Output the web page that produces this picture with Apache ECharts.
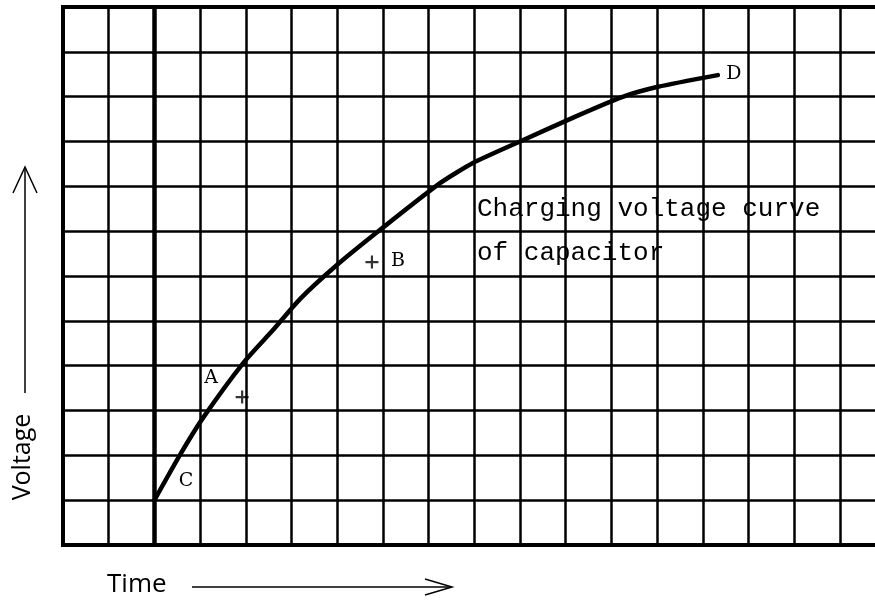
<!DOCTYPE html>
<html>
<head>
<meta charset="utf-8">
<script src="https://cdn.jsdelivr.net/npm/echarts@6/dist/echarts.min.js"></script>
<style>html,body{margin:0;padding:0;background:#fff;}#c{width:875px;height:602px;}</style>
</head>
<body>
<div id="c"></div>
<script>
// Grid extent (in grid cells)
var xCells = 18;
var yCells = 12;
// Charging curve (time, voltage) in grid units, C -> D
var curveX = [2.0, 2.56, 3.06, 3.96, 4.6, 5.19, 6.0, 6.94, 8.25, 8.97, 10.0, 11.2, 12.2, 13.02, 14.33];
var curveY = [1.0, 2.01, 2.83, 4.08, 4.8, 5.49, 6.25, 7.03, 8.07, 8.52, 9.0, 9.55, 9.98, 10.22, 10.48];
// Start time line (thick vertical at C)
var startX = 2;
// "+" marks
var crossNames = ['B', 'A'];
var crossX = [6.76, 3.92];
var crossY = [6.31, 3.30];
// Letter labels
var letterNames = ['A', 'B', 'C', 'D'];
var letterX = [3.24, 7.33, 2.69, 14.68];
var letterY = [3.73, 6.34, 1.43, 10.51];
// Texts
var noteLines = ['Charging voltage curve', 'of capacitor'];
var xTitle = 'Time';
var yTitle = 'Voltage';

var chart = echarts.init(document.getElementById('c'), null, {renderer: 'canvas'});
var cellW = 45.7, cellH = 538 / 12;
var option = {
  backgroundColor: '#fff',
  animation: false,
  grid: {left: 63, top: 7, width: cellW * xCells, height: cellH * yCells,
         outerBoundsMode: 'none', containLabel: false,
         show: true, borderColor: '#000', borderWidth: 4, backgroundColor: 'transparent'},
  xAxis: {type: 'value', min: 0, max: xCells, interval: 1,
          axisLine: {show: false}, axisTick: {show: false}, axisLabel: {show: false},
          splitLine: {show: true, lineStyle: {color: '#000', width: 2.5}}},
  yAxis: {type: 'value', min: 0, max: yCells, interval: 1,
          axisLine: {show: false}, axisTick: {show: false}, axisLabel: {show: false},
          splitLine: {show: true, lineStyle: {color: '#000', width: 2.5}}},
  series: [
    {
      type: 'line', smooth: 0.2, symbol: 'none',
      data: curveX.map(function (x, i) { return [x, curveY[i]]; }),
      lineStyle: {color: '#000', width: 4.5, cap: 'round'},
      markLine: {silent: true, symbol: 'none', label: {show: false},
                 lineStyle: {color: '#000', width: 4.5, type: 'solid'},
                 data: [{xAxis: startX}]}
    },
    {
      type: 'scatter', symbol: 'path://M-1,-6H1V-1H6V1H1V6H-1V1H-6V-1H-1Z', symbolSize: 13,
      itemStyle: {color: '#000'},
      data: crossX.map(function (x, i) { return {name: crossNames[i], value: [x, crossY[i]]}; })
    },
    {
      type: 'scatter', symbol: 'circle', symbolSize: 0,
      itemStyle: {color: '#000', opacity: 1},
      label: {show: true, position: 'inside', formatter: '{b}', color: '#000', opacity: 1,
              textBorderWidth: 0,
              fontFamily: 'DejaVu Serif', fontSize: 19},
      data: letterX.map(function (x, i) { return {name: letterNames[i], value: [x, letterY[i]]}; })
    }
  ],
  graphic: [
    {type: 'text', left: 477, top: 196, style: {text: noteLines[0], fill: '#000',
      font: '26px "Liberation Mono"'}},
    {type: 'text', left: 477, top: 240, style: {text: noteLines[1], fill: '#000',
      font: '26px "Liberation Mono"'}},
    {type: 'text', x: 23, y: 457, rotation: Math.PI / 2, style: {text: yTitle, fill: '#000',
      font: '25px "Open Sans"', textAlign: 'center', textVerticalAlign: 'middle'}},
    {type: 'line', shape: {x1: 25, y1: 393, x2: 25, y2: 168}, style: {stroke: '#000', lineWidth: 1.5}},
    {type: 'polyline', shape: {points: [[13, 193], [25, 167], [37, 193]]}, style: {stroke: '#000', lineWidth: 1.5, fill: null}},
    {type: 'text', left: 107, top: 572, style: {text: xTitle, fill: '#000',
      font: '26px "Open Sans"'}},
    {type: 'line', shape: {x1: 192, y1: 587, x2: 451, y2: 587}, style: {stroke: '#000', lineWidth: 1.5}},
    {type: 'polyline', shape: {points: [[425, 579], [452, 587], [425, 595]]}, style: {stroke: '#000', lineWidth: 1.5, fill: null}}
  ]
};
chart.setOption(option);
</script>
</body>
</html>
